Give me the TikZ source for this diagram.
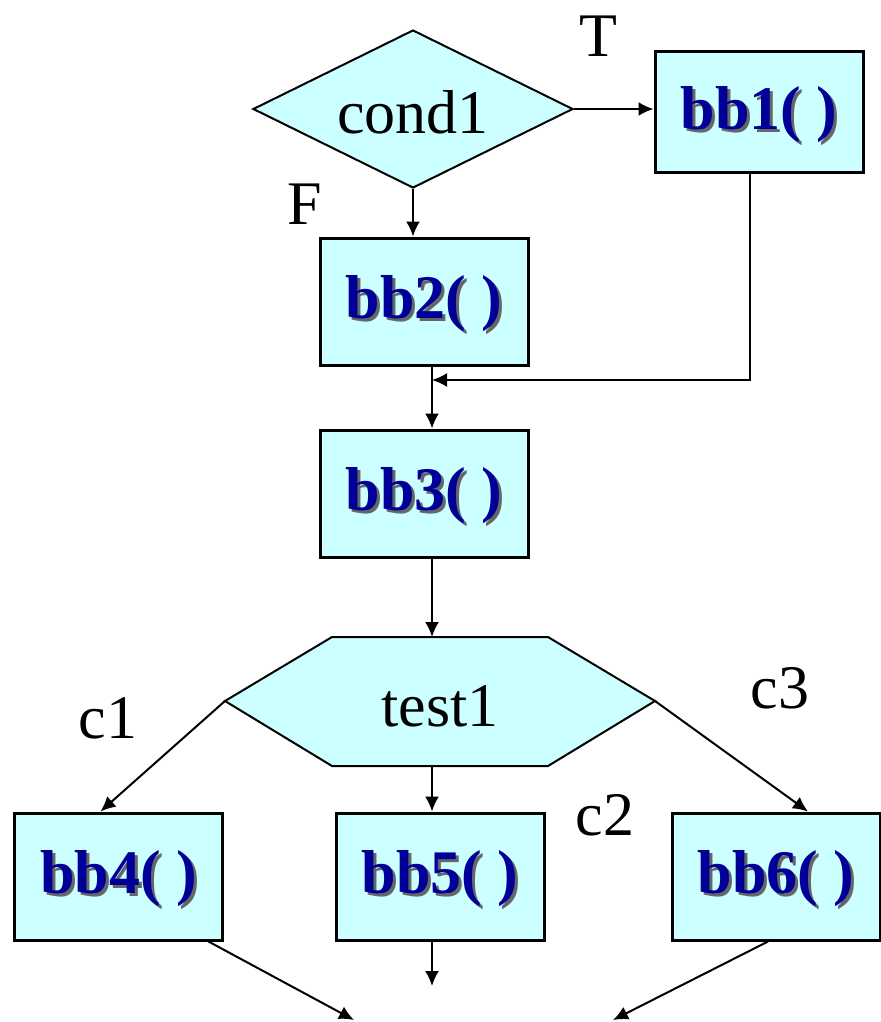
\documentclass[tikz,border=0pt]{standalone}
\usepackage{fontspec}
\setmainfont{Liberation Serif}
\usetikzlibrary{shapes.geometric,arrows.meta}
\definecolor{boxfill}{HTML}{CCFFFF}
\definecolor{bbblue}{HTML}{000099}
\definecolor{bbshadow}{HTML}{666666}
% bold block name with a soft drop shadow, set a little low in its box
\newcommand{\bbname}[1]{\raisebox{-2pt}[\height][\depth]{%
    \makebox[0pt][l]{\kern1.5pt\raisebox{-1.5pt}{\textcolor{bbshadow}{#1}}}#1}}

\begin{document}
\begin{tikzpicture}[x=0.5pt, y=-0.5pt,
    every node/.style={font=\fontsize{31}{37}\selectfont},
    block/.style={draw, line width=1.5pt, fill=boxfill, inner sep=0pt,
      minimum width=104pt, minimum height=63.5pt, text=bbblue,
      font=\fontsize{31}{37}\selectfont\bfseries},
    decision/.style={draw, line width=1pt, fill=boxfill, diamond,
      aspect=2, inner sep=0pt, minimum width=160pt, minimum height=79pt}]
    \useasboundingbox (0,0) rectangle (880,1022);

    \node [decision] (cond1) at (413,109)
      {\raisebox{-1.5pt}[\height][\depth]{cond1}};
    \begin{scope}[every node/.append style={block}]
      \node [minimum height=60pt] (bb1) at (759,112) {\bbname{bb1( )}};
      \node (bb2) at (424,301.5) {\bbname{bb2( )}}; \node (bb3) at
      (424,493.5) {\bbname{bb3( )}}; \node (bb4) at (118.5,876.5)
      {\bbname{bb4( )}}; \node (bb5) at (440,876.5) {\bbname{bb5( )}};
      \node (bb6) at (776,876.5) {\bbname{bb6( )}};
    \end{scope}

    % the multi-way test
    \path [draw, line width=1pt, fill=boxfill] (332,637) -- (548,637)
      -- (655,701) coordinate (t1r) -- (548,766) -- (332,766) --
      (225,701) coordinate (t1l) -- cycle;
    \coordinate (t1top) at (432,637); \coordinate (t1bot) at (432,766);
    \node (test1) at (440,706) {test1};

    \node (T) at (598,36) {T}; \node (F) at (305,204) {F};
    \node (c1) at (108,718) {c1}; \node (c2) at (605,815) {c2};
    \node (c3) at (780,688) {c3};

    \coordinate (join) at (432,380);
    \coordinate (out1) at (354,1020); \coordinate (out2) at (432,986);
    \coordinate (out3) at (613,1020);

    \begin{scope}[->, >={Latex[length=7.5pt,width=7pt]}, line width=1pt]
      \draw (cond1.east) -- (cond1.east -| bb1.west); \draw
      (cond1.south) -- (cond1.south |- bb2.north); \draw
      ([xshift=-4.5pt]bb1.south) |- (join); \draw (bb2.south -| join)
      -- (bb3.north -| join); \draw (bb3.south -| join) -- (t1top);
      \draw (t1l) -- ([xshift=-9pt]bb4.north); \draw (t1bot) -- (t1bot
      |- bb5.north); \draw (t1r) -- ([xshift=16pt]bb6.north); \draw
      ([xshift=45pt]bb4.south) -- (out1); \draw (bb5.south -| out2) --
      (out2); \draw ([xshift=-4pt]bb6.south) -- (out3);
    \end{scope}
  \end{tikzpicture}
\end{document}
